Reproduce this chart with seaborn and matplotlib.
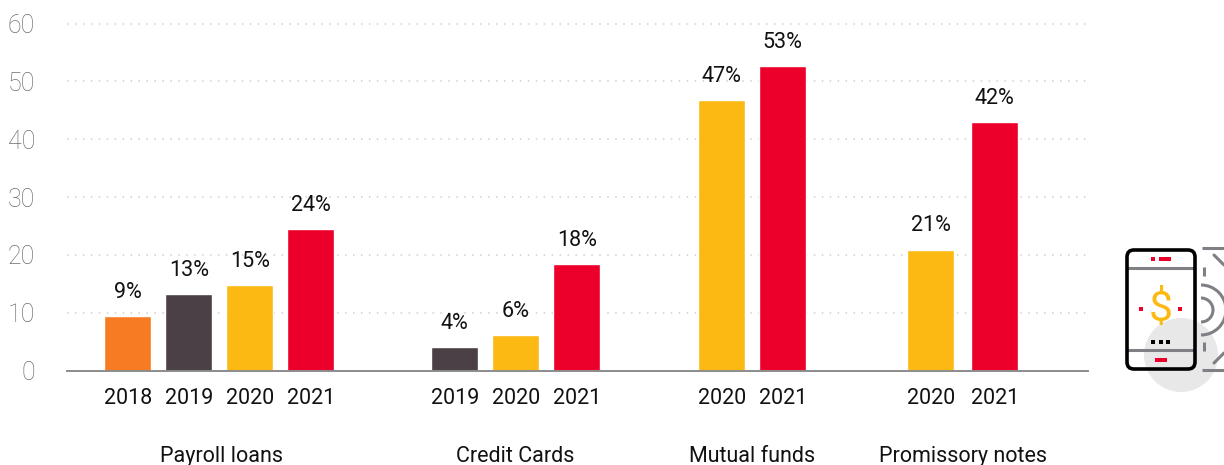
import numpy as np
import pandas as pd
import matplotlib
matplotlib.use("Agg")
import matplotlib.pyplot as plt
from matplotlib.patches import FancyBboxPatch, Circle, Rectangle, Arc
import seaborn as sns

groups = ["Payroll loans", "Credit Cards", "Mutual funds", "Promissory notes"]
years = [[2018, 2019, 2020, 2021], [2019, 2020, 2021], [2020, 2021], [2020, 2021]]
values = [[9.4, 13.2, 14.8, 24.4], [4.0, 6.1, 18.4], [46.7, 52.6], [20.9, 42.9]]
labels = [["9%", "13%", "15%", "24%"], ["4%", "6%", "18%"], ["47%", "53%"], ["21%", "42%"]]

COLORS = {2018: "#F77B22", 2019: "#4B4045", 2020: "#FDB913", 2021: "#EC002B"}
GROUP_START = [127.7, 454.7, 721.7, 930.7]
GROUP_PITCH = [61, 61, 61, 64]
GROUP_LABEL_X = [221, 515, 752, 963]
W, H = 1224, 465
AX_L, AX_R, AX_B, AX_T = 67, 1088, 370.5, 12

sns.set_theme(style="white")
plt.rcParams["font.family"] = ["Roboto", "DejaVu Sans"]

rows = []
for g, ys, vs, ls, s, p in zip(groups, years, values, labels, GROUP_START, GROUP_PITCH):
    for i, (y, v, l) in enumerate(zip(ys, vs, ls)):
        rows.append(dict(group=g, year=y, value=v, label=l, pos=s + i * p))
df = pd.DataFrame(rows)

fig = plt.figure(figsize=(W / 100, H / 100), dpi=100)
ax = fig.add_axes([AX_L / W, 1 - AX_B / H, (AX_R - AX_L) / W, (AX_B - AX_T) / H])
sns.barplot(data=df, x="pos", y="value", hue="year", palette=COLORS, native_scale=True,
            dodge=False, width=46.6 / 61, legend=False, ax=ax, zorder=3, saturation=1)
ax.set_xlim(AX_L, AX_R)
ax.set_ylim(0, 62)
ax.set_xlabel("")
ax.set_ylabel("")
ax.set_yticks(range(0, 61, 10))
ax.tick_params(axis="y", length=0, pad=23, labelsize=18, labelcolor="#6E6E6E")
for t in ax.get_yticklabels():
    t.set_fontweight("light")
ax.set_xticks(df["pos"], df["year"].astype(str))
ax.tick_params(axis="x", length=0, pad=12.5, labelsize=15.5, labelcolor="#111111")
ax.grid(axis="y", color="#CFCFCF", lw=1.1, ls=(0, (1, 4.2)), zorder=0)
ax.xaxis.grid(False)
ax.set_axisbelow(True)
for s in ["top", "left", "right"]:
    ax.spines[s].set_visible(False)
ax.spines["bottom"].set_color("#8C8C8C")
ax.spines["bottom"].set_linewidth(1.4)
ax.spines["bottom"].set_zorder(4)

for _, r in df.iterrows():
    ax.annotate(r["label"], (r["pos"], r["value"]), xytext=(0, 9.5), textcoords="offset points",
                ha="center", va="bottom", fontsize=15.5, color="#111111")
for g, x in zip(groups, GROUP_LABEL_X):
    ax.annotate(g, (x, 0), xytext=(0, -(457 - 371) / 100 * 72), textcoords="offset points",
                ha="center", va="center", fontsize=15.5, color="#111111", annotation_clip=False)

# Decorative phone icon, in figure pixel coordinates
ic = fig.add_axes([0, 0, 1, 1], facecolor="none")
ic.set_xlim(0, W)
ic.set_ylim(H, 0)
ic.axis("off")
GREY = "#7F7F86"
RED = "#EC002B"
ic.add_patch(Circle((1181, 355), 37, fc="#E8E8E8", ec="none", zorder=1))
for y in [268, 350]:
    ic.plot([1127, 1195], [y, y], color=GREY, lw=2.2, zorder=2, solid_capstyle="butt")
ic.add_patch(FancyBboxPatch((1127, 250), 68, 119, boxstyle="round,pad=0,rounding_size=7",
                            fc="none", ec="#000000", lw=2.6, zorder=3))
for x0, y0, w, h in [(1151, 257, 4, 4), (1159, 257, 12, 4), (1139, 307, 4, 4), (1178, 307, 4, 4), (1155, 358, 12, 4)]:
    ic.add_patch(Rectangle((x0, y0), w, h, fc=RED, ec="none", zorder=3))
for x in [1153, 1161, 1168]:
    ic.add_patch(Rectangle((x - 2, 340), 4, 4, fc="#000000", ec="none", zorder=3))
ic.text(1161, 309, r"\$", color="#FDB913", fontsize=31, ha="center", va="center", zorder=3,
        family="Roboto")
# Right-hand grey ornament
for y, d in [(248, 1), (370, -1)]:
    ic.plot([1202, 1224], [y, y], color=GREY, lw=2.2, zorder=2, solid_capstyle="butt")
    ic.plot([1214, 1224], [y + 7 * d, y + 17 * d], color=GREY, lw=2.2, zorder=2)
    ic.plot([1203.5, 1203.5], [y + 19 * d, y + 28 * d], color=GREY, lw=2.2, zorder=2, solid_capstyle="butt")
for r in [25, 12]:
    ic.add_patch(Arc((1201, 310), 2 * r, 2 * r, theta1=-90, theta2=90, color=GREY, lw=2.2, zorder=2))

fig.savefig("out.png", dpi=100, facecolor="white")
